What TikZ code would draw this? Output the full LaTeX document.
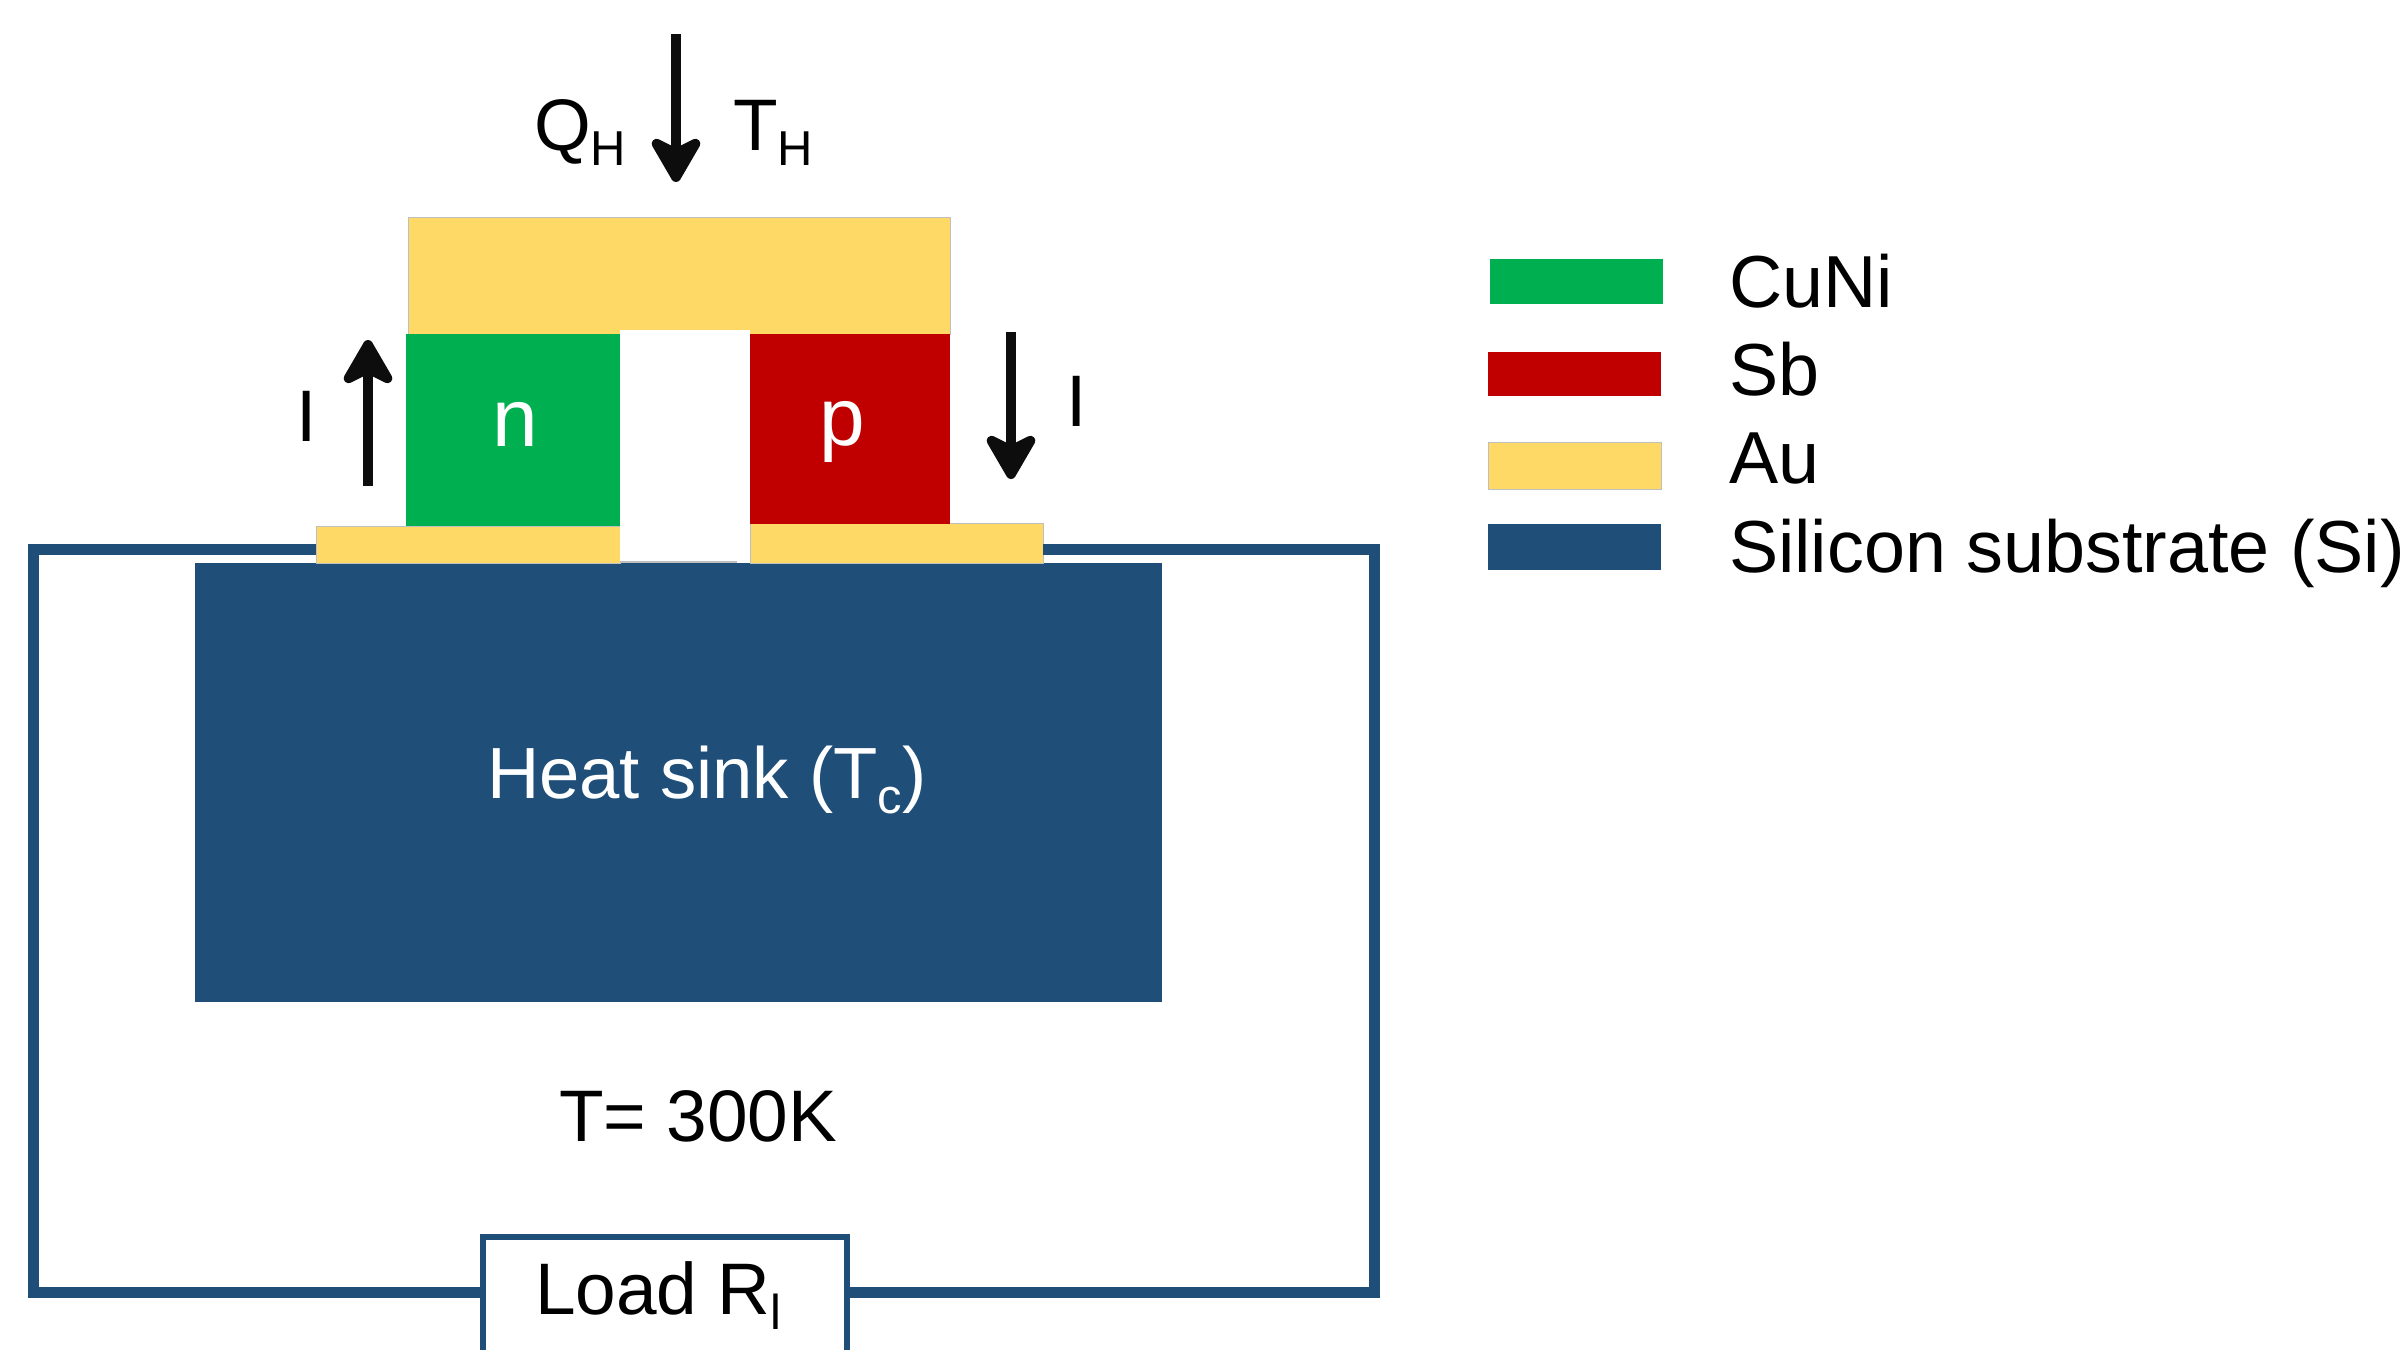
\documentclass[tikz,border=0pt]{standalone}
\usepackage{fontspec}
\setmainfont{Liberation Sans}
\usetikzlibrary{arrows.meta}
\definecolor{cugreen}{HTML}{00B050}
\definecolor{sbred}{HTML}{C00000}
\definecolor{augold}{HTML}{FFD966}
\definecolor{siblue}{HTML}{1F4E79}
\definecolor{arrowblack}{HTML}{0D0D0D}
\newcommand{\lowsub}[1]{\raisebox{-15pt}{\fontsize{49}{49}\selectfont #1}}
\tikzset{
  x=1pt,y=-1pt,
  block/.style={anchor=north west,inner sep=0pt,outer sep=0pt,draw=none},
  gold/.style={block,fill=augold,draw=black!25,line width=1pt},
  wire/.style={draw=siblue,line width=11pt,line join=miter},
  flow/.style={draw=arrowblack,line width=10pt,-{Stealth[length=54pt,width=62pt,inset=15pt,round]}},
  txt/.style={anchor=base west,inner sep=0pt,outer sep=0pt,text=black,font=\fontsize{73}{73}\selectfont},
  legtxt/.style={txt,font=\fontsize{73.7}{74}\selectfont},
  wtxt/.style={txt,text=white,font=\fontsize{72.5}{73}\selectfont},
  pn/.style={anchor=base,inner sep=0pt,outer sep=0pt,text=white,font=\fontsize{82}{82}\selectfont}
}
\begin{document}
\begin{tikzpicture}
\path[use as bounding box,clip] (0,0) rectangle (2406,1349);
\fill[white] (0,0) rectangle (2406,1349);
% loop corners
\coordinate (wtl) at (33,549.5);
\coordinate (wtr) at (1374.5,549.5);
\coordinate (wbl) at (33,1292.5);
\coordinate (wbr) at (1374.5,1292.5);
% heat sink and contacts
\node[block,fill=siblue,minimum width=967pt,minimum height=439pt] (sink) at (195,563) {};
\node[gold,minimum width=304pt,minimum height=37pt] (auL) at (316,526) {};
\node[gold,minimum width=293pt,minimum height=39.5pt] (auR) at (750,523.5) {};
\node[gold,minimum width=542pt,minimum height=117pt] (auT) at (408,217) {};
\node[block,fill=cugreen,minimum width=214pt,minimum height=192pt] (nleg) at (406,334) {};
\node[block,fill=sbred,minimum width=200pt,minimum height=189.5pt] (pleg) at (750,334) {};
\node[block,fill=white,minimum width=130pt,minimum height=231.5pt] (gap) at (620,329.5) {};
\node[block,fill=black!25,minimum width=117pt,minimum height=2pt] (gapedge) at (620,561) {};
% load
\node[block,fill=white,draw=siblue,line width=6pt,minimum width=364pt,minimum height=200pt] (load) at (482.5,1237) {};
% wires
\draw[wire] (auL.west |- wtl) -- (wtl) -- (wbl) -- (load.west |- wbl);
\draw[wire] (auR.east |- wtr) -- (wtr) -- (wbr) -- (load.east |- wbr);
% arrows
\coordinate (qs) at (676,34); \coordinate (qe) at (676,182);
\coordinate (ls) at (368,486); \coordinate (le) at (368,340);
\coordinate (rs) at (1011,332); \coordinate (re) at (1011,479);
\draw[flow] (qs) -- (qe);
\draw[flow] (ls) -- (le);
\draw[flow] (rs) -- (re);
% labels
\node[txt] (qh) at (534,150) {Q\lowsub{H}};
\node[txt] (th) at (733,150) {T\lowsub{H}};
\node[txt] (il) at (296,441) {I};
\node[txt] (ir) at (1066,426) {I};
\node[pn] (ntext) at (515,446) {n};
\node[pn] (ptext) at (842,445) {p};
\node[wtxt] (hs) at (487,798) {Heat sink (T\lowsub{c})};
\node[txt] (temp) at (559,1141) {T= 300K};
\node[txt] (ltxt) at (535,1314) {Load R\lowsub{l}};
% legend
\node[block,fill=cugreen,minimum width=173pt,minimum height=45pt] (lg1) at (1490,259) {};
\node[block,fill=sbred,minimum width=173pt,minimum height=44pt] (lg2) at (1488,352) {};
\node[gold,minimum width=173pt,minimum height=47pt] (lg3) at (1488,442) {};
\node[block,fill=siblue,minimum width=173pt,minimum height=46pt] (lg4) at (1488,524) {};
\node[legtxt] (lt1) at (1729,307) {CuNi};
\node[legtxt] (lt2) at (1729,395) {Sb};
\node[legtxt] (lt3) at (1729,483) {Au};
\node[legtxt] (lt4) at (1729,572) {Silicon substrate (Si)};
\end{tikzpicture}
\end{document}
